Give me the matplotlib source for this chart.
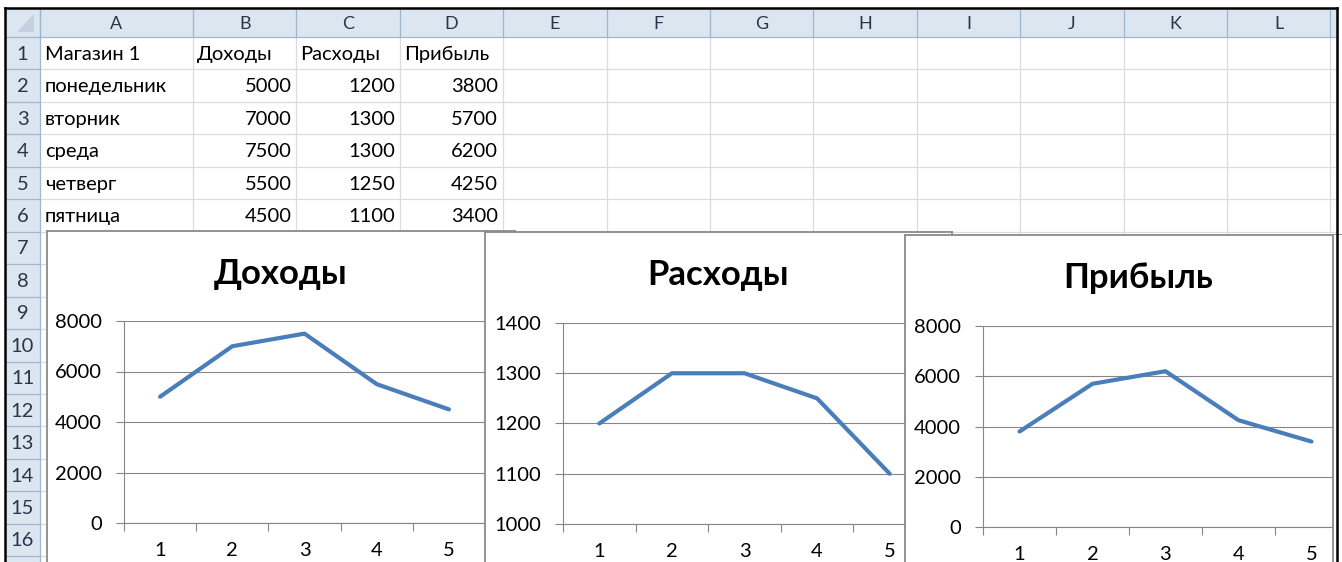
import matplotlib
matplotlib.use("Agg")
import matplotlib.pyplot as plt
from matplotlib.patches import Rectangle, Polygon
from matplotlib.ticker import FixedLocator, NullFormatter

plt.rcParams['font.family'] = ['Lato', 'DejaVu Sans']

# ---------------- data ----------------
store = "Магазин 1"
headers = ["Доходы", "Расходы", "Прибыль"]
days = ["понедельник", "вторник", "среда", "четверг", "пятница"]
income = [5000, 7000, 7500, 5500, 4500]
expenses = [1200, 1300, 1300, 1250, 1100]
profit = [3800, 5700, 6200, 4250, 3400]
x_cats = [1, 2, 3, 4, 5]
col_letters = list("ABCDEFGHIJKL")
row_numbers = list(range(1, 17))
y_ticks_income = [0, 2000, 4000, 6000, 8000]
y_ticks_expenses = [1000, 1100, 1200, 1300, 1400]
y_ticks_profit = [0, 2000, 4000, 6000, 8000]

# ---------------- layout (pixels) ----------------
W, H = 1342, 562
FS = 14.5
FS_HDR = 13
FS_T = 25
HDR_BG = '#DCE6F1'
HDR_LINE = '#9EB6CE'
HDR_TXT = '#27364A'
GRID = '#DADCDD'
AX_GRAY = '#868686'
LINE_BLUE = '#4A7EBB'

fig = plt.figure(figsize=(W / 100, H / 100), dpi=100)
fig.patch.set_facecolor('white')


def frac(l, t, r, b):
    return [l / W, (H - b) / H, (r - l) / W, (b - t) / H]


bg = fig.add_axes([0, 0, 1, 1], zorder=0)
bg.set_xlim(0, W)
bg.set_ylim(H, 0)
bg.axis('off')

left_edge, top_edge, right_edge = 5, 8, 1337
hdr_top, hdr_bot = 9, 37
rowhdr_r = 40
row_h = 32.45
colA_r = 193
col_w = 103.4
col_bounds = [rowhdr_r, colA_r] + [colA_r + col_w * k for k in range(1, 12)]

# header row and row-header backgrounds
bg.add_patch(Rectangle((left_edge, hdr_top), right_edge - left_edge, hdr_bot - hdr_top,
                       facecolor=HDR_BG, edgecolor='none'))
bg.add_patch(Rectangle((left_edge, hdr_bot), rowhdr_r - left_edge, H - hdr_bot,
                       facecolor=HDR_BG, edgecolor='none'))
# corner triangle
bg.add_patch(Polygon([(17, 32), (34, 32), (34, 14)], closed=True,
                     facecolor='#C3D0E0', edgecolor='none'))

# cell gridlines
row_bounds = [hdr_bot + row_h * k for k in range(0, 18)]
for xb in col_bounds[1:]:
    bg.plot([xb, xb], [hdr_bot, H], color=GRID, lw=0.9)
for yb in row_bounds[1:]:
    bg.plot([rowhdr_r, right_edge], [yb, yb], color=GRID, lw=0.9)

# header separators
for xb in col_bounds:
    bg.plot([xb, xb], [hdr_top, hdr_bot], color=HDR_LINE, lw=0.9)
bg.plot([left_edge, right_edge], [hdr_bot, hdr_bot], color=HDR_LINE, lw=0.9)
bg.plot([rowhdr_r, rowhdr_r], [hdr_top, H], color=HDR_LINE, lw=0.9)
for yb in row_bounds[1:]:
    bg.plot([left_edge, rowhdr_r], [yb, yb], color=HDR_LINE, lw=0.9)

# column letters
for i, letter in enumerate(col_letters):
    cx = (col_bounds[i] + col_bounds[i + 1]) / 2
    bg.text(cx, (hdr_top + hdr_bot) / 2 + 1, letter, ha='center', va='center',
            fontsize=FS_HDR, color=HDR_TXT)
# row numbers
for i, n in enumerate(row_numbers):
    cy = (row_bounds[i] + row_bounds[i + 1]) / 2
    bg.text(22.5, cy + 1, str(n), ha='center', va='center', fontsize=FS, color=HDR_TXT)

# table contents
def row_center(r):
    return (row_bounds[r - 1] + row_bounds[r]) / 2 + 1

bg.text(col_bounds[0] + 5, row_center(1), store, ha='left', va='center', fontsize=FS, color='black')
for j, h in enumerate(headers):
    bg.text(col_bounds[j + 1] + 4, row_center(1), h, ha='left', va='center', fontsize=FS, color='black')
for i, d in enumerate(days):
    r = i + 2
    bg.text(col_bounds[0] + 5, row_center(r), d, ha='left', va='center', fontsize=FS, color='black')
    for j, series in enumerate([income, expenses, profit]):
        bg.text(col_bounds[j + 2] - 5, row_center(r), str(series[i]), ha='right', va='center',
                fontsize=FS, color='black')

# ---------------- charts ----------------
charts = [
    dict(title=headers[0], data=income, yticks=y_ticks_income,
         box=(47, 231, 515), plot=(124, 321, 485, 523)),
    dict(title=headers[1], data=expenses, yticks=y_ticks_expenses,
         box=(485, 232, 952), plot=(563, 323, 926, 524)),
    dict(title=headers[2], data=profit, yticks=y_ticks_profit,
         box=(905, 235, 1372), plot=(983, 326, 1348, 527)),
]

for k, c in enumerate(charts):
    bl, bt, br = c['box']
    bax = fig.add_axes(frac(bl, bt, br, H + 40), zorder=2 * k + 1)
    bax.set_facecolor('white')
    bax.set_xticks([])
    bax.set_yticks([])
    for s in bax.spines.values():
        s.set_color('#8A8A8A')
        s.set_linewidth(1.3)
    bax.set_xlim(bl, br)
    bax.set_ylim(H + 40, bt)
    bax.text((bl + br) / 2, bt + 43, c['title'], ha='center', va='center',
             fontsize=FS_T, fontweight='bold', color='black')

    pl, pt, pr, pb = c['plot']
    ax = fig.add_axes(frac(pl, pt, pr, pb), zorder=2 * k + 2)
    ax.patch.set_alpha(0)
    ax.plot(x_cats, c['data'], color=LINE_BLUE, lw=3.0, solid_capstyle='round',
            solid_joinstyle='round', clip_on=False, zorder=3)
    ax.set_xlim(0.5, 5.5)
    ax.set_ylim(c['yticks'][0], c['yticks'][-1])
    ax.set_yticks(c['yticks'])
    ax.set_yticklabels([str(v) for v in c['yticks']])
    ax.xaxis.set_major_locator(FixedLocator([0.5, 1.5, 2.5, 3.5, 4.5, 5.5]))
    ax.xaxis.set_major_formatter(NullFormatter())
    ax.xaxis.set_minor_locator(FixedLocator(x_cats))
    ax.set_xticklabels([str(v) for v in x_cats], minor=True)
    ax.tick_params(axis='x', which='minor', length=0, pad=14, labelsize=FS)
    ax.tick_params(axis='x', which='major', direction='out', length=6, width=0.8, color=AX_GRAY)
    ax.tick_params(axis='y', direction='out', length=6, width=0.8, color=AX_GRAY,
                   pad=10, labelsize=FS)
    ax.grid(axis='y', color=AX_GRAY, lw=0.8)
    ax.set_axisbelow(True)
    for side in ['top', 'right']:
        ax.spines[side].set_visible(False)
    for side in ['left', 'bottom']:
        ax.spines[side].set_color(AX_GRAY)
        ax.spines[side].set_linewidth(0.8)

# ---------------- overlay: window frame ----------------
ov = fig.add_axes([0, 0, 1, 1], zorder=50)
ov.set_xlim(0, W)
ov.set_ylim(H, 0)
ov.axis('off')
ov.patch.set_alpha(0)
ov.add_patch(Rectangle((1333, 235), W - 1333, H - 235, facecolor='white', edgecolor='none'))
ov.plot([1333, 1333], [235, H], color='#8A8A8A', lw=1.3)
ov.plot([left_edge, left_edge], [top_edge, H], color='black', lw=1.8)
ov.plot([left_edge, right_edge], [top_edge, top_edge], color='black', lw=1.8)
ov.plot([right_edge, right_edge], [top_edge, H], color='black', lw=1.8)

fig.savefig('out.png', dpi=100, facecolor='white')
